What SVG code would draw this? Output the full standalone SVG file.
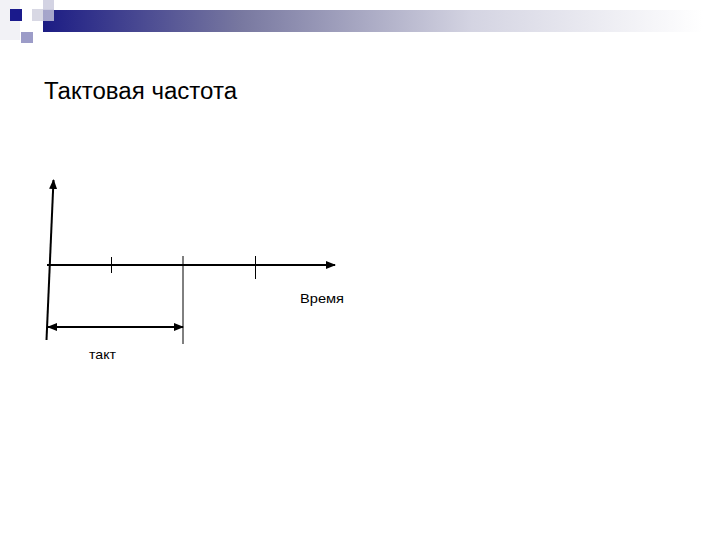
<svg xmlns="http://www.w3.org/2000/svg" width="720" height="540" viewBox="0 0 720 540">
<defs>
<linearGradient id="bar" x1="0" y1="0" x2="1" y2="0">
<stop offset="0" stop-color="#1c1c84"/>
<stop offset="0.3" stop-color="#7878a0"/>
<stop offset="0.65" stop-color="#d4d4e2"/>
<stop offset="1" stop-color="#ffffff"/>
</linearGradient>
<marker id="arr" markerWidth="10" markerHeight="8" refX="9" refY="4" orient="auto" markerUnits="userSpaceOnUse">
<path d="M0,0 L10,4 L0,8 Z" fill="#000"/>
</marker>
<marker id="arrs" markerWidth="10" markerHeight="8" refX="1" refY="4" orient="auto" markerUnits="userSpaceOnUse">
<path d="M10,0 L0,4 L10,8 Z" fill="#000"/>
</marker>
<style>
.ax{stroke:#000;stroke-width:2;fill:none}
.tk{stroke:#000;stroke-width:1;fill:none}
.lbl{font-family:"Liberation Sans",Arial,sans-serif;fill:#000}
</style>
</defs>
<rect width="720" height="540" fill="#fff"/>
<g id="decor">
<rect x="0" y="0" width="20" height="40" fill="#f2f2f6"/>
<rect x="32" y="9" width="22" height="12" fill="#d8d8e4"/>
<rect x="43" y="10" width="660" height="22" fill="url(#bar)"/>
<rect x="43" y="0" width="11" height="21" fill="#c8c8dc" fill-opacity="0.8"/>
<rect x="10" y="9" width="12" height="12" fill="#1a1a8c"/>
<rect x="21" y="32" width="12" height="11" fill="#9c9cc8"/>
</g>
<g id="title"><text class="lbl" x="44" y="99" font-size="23" textLength="193" lengthAdjust="spacingAndGlyphs">Тактовая частота</text></g>
<g id="connectors">
<line class="ax" x1="46.5" y1="340" x2="53.5" y2="180" marker-end="url(#arr)"/>
<line class="ax" x1="47" y1="265" x2="335" y2="265" marker-end="url(#arr)"/>
<line class="tk" x1="111.5" y1="257" x2="111.5" y2="273"/>
<line class="tk" x1="183" y1="256" x2="183" y2="344"/>
<line class="tk" x1="255.5" y1="256" x2="255.5" y2="279"/>
<line class="ax" x1="48" y1="327" x2="183" y2="327" marker-start="url(#arrs)" marker-end="url(#arr)"/>
</g>
<g id="labels">
<text class="lbl" x="300" y="303" font-size="13" textLength="44" lengthAdjust="spacingAndGlyphs">Время</text>
<text class="lbl" x="89" y="359" font-size="13" textLength="27" lengthAdjust="spacingAndGlyphs">такт</text>
</g>
</svg>
